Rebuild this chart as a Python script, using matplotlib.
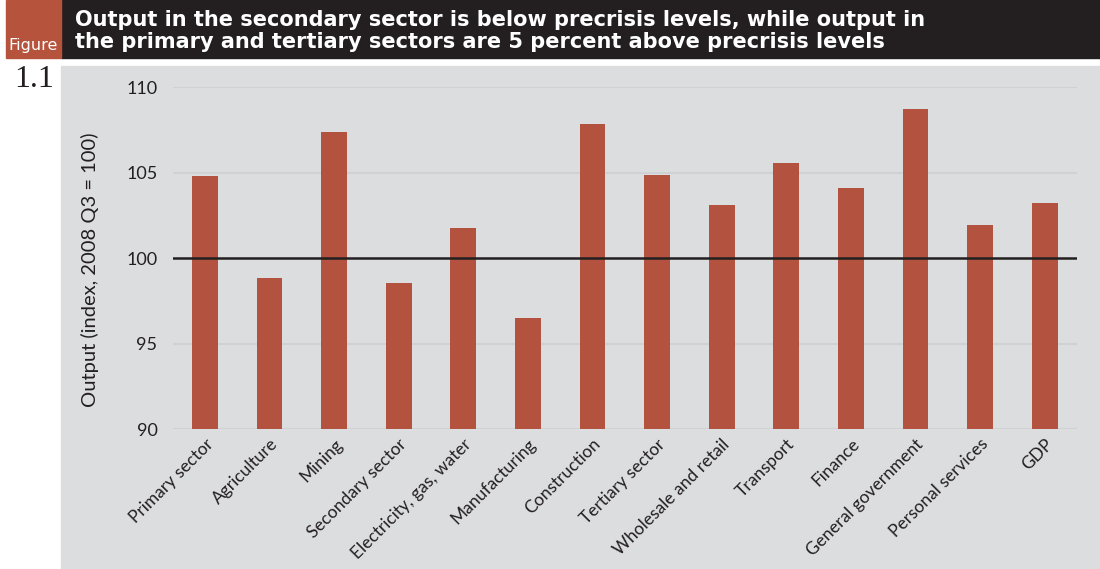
import matplotlib
matplotlib.use("Agg")
import matplotlib.pyplot as plt
from matplotlib.patches import Rectangle

# data
sectors = ["Primary sector", "Agriculture", "Mining", "Secondary sector",
           "Electricity, gas, water", "Manufacturing", "Construction",
           "Tertiary sector", "Wholesale and retail", "Transport", "Finance",
           "General government", "Personal services", "GDP"]
output_index = [104.77, 98.82, 107.39, 98.52, 101.73, 96.48, 107.86,
                104.88, 103.13, 105.58, 104.07, 108.71, 101.93, 103.2]
yticks = [90, 95, 100, 105, 110]

title = ("Output in the secondary sector is below precrisis levels, while output in\n"
         "the primary and tertiary sectors are 5 percent above precrisis levels")

bar_col = "#b3523e"
dark = "#231f20"
panel = "#dcdddf"

fig = plt.figure(figsize=(11, 5.69), dpi=100)

# background panel and header boxes (behind the axes)
fig.patches.append(Rectangle((0.0555, 0), 0.9445, 0.884, transform=fig.transFigure,
                             color=panel, zorder=-2))
fig.patches.append(Rectangle((0.0555, 0.898), 0.9445, 0.102, transform=fig.transFigure,
                             color=dark, zorder=-2))
fig.patches.append(Rectangle((0.0055, 0.898), 0.050, 0.102, transform=fig.transFigure,
                             color="#b5533c", zorder=-2))

fig.text(0.0305, 0.907, "Figure", color="white", fontsize=11.5, ha="center", va="bottom",
         family="DejaVu Sans")
fig.text(0.031, 0.885, "1.1", color=dark, fontsize=23, ha="center", va="top",
         family="Liberation Serif")
fig.text(0.068, 0.945, title, color="white", fontsize=15, fontweight="bold",
         ha="left", va="center", linespacing=1.15, family="DejaVu Sans")

ax = fig.add_axes([0.157, 0.246, 0.822, 0.601])
ax.set_facecolor("none")

x = range(len(sectors))
ax.bar(x, output_index, width=0.4, bottom=0, color=bar_col, zorder=2)
ax.set_ylim(90, 110)
ax.set_xlim(-0.5, len(sectors) - 0.5)

for t in yticks:
    if t == 100:
        ax.axhline(t, color=dark, lw=1.8, zorder=3)
    else:
        ax.axhline(t, color="#d0d1d4", lw=1.5, zorder=1)

ax.set_yticks(yticks)
ax.set_yticklabels([str(t) for t in yticks], fontsize=13, color=dark, family="Lato")
ax.set_xticks(list(x))
ax.set_xticklabels(sectors, rotation=45, ha="right", va="top",
                   rotation_mode="anchor", fontsize=12.5, color=dark, family="Lato")
ax.tick_params(axis="both", length=0)
ax.tick_params(axis="x", pad=5)
ax.tick_params(axis="y", pad=11)
for s in ax.spines.values():
    s.set_visible(False)

ax.set_ylabel("Output (index, 2008 Q3 = 100)", fontsize=14.5, color=dark, family="Lato")
ax.yaxis.set_label_coords(-0.081, 0.465)

fig.savefig("out.png", dpi=100)
